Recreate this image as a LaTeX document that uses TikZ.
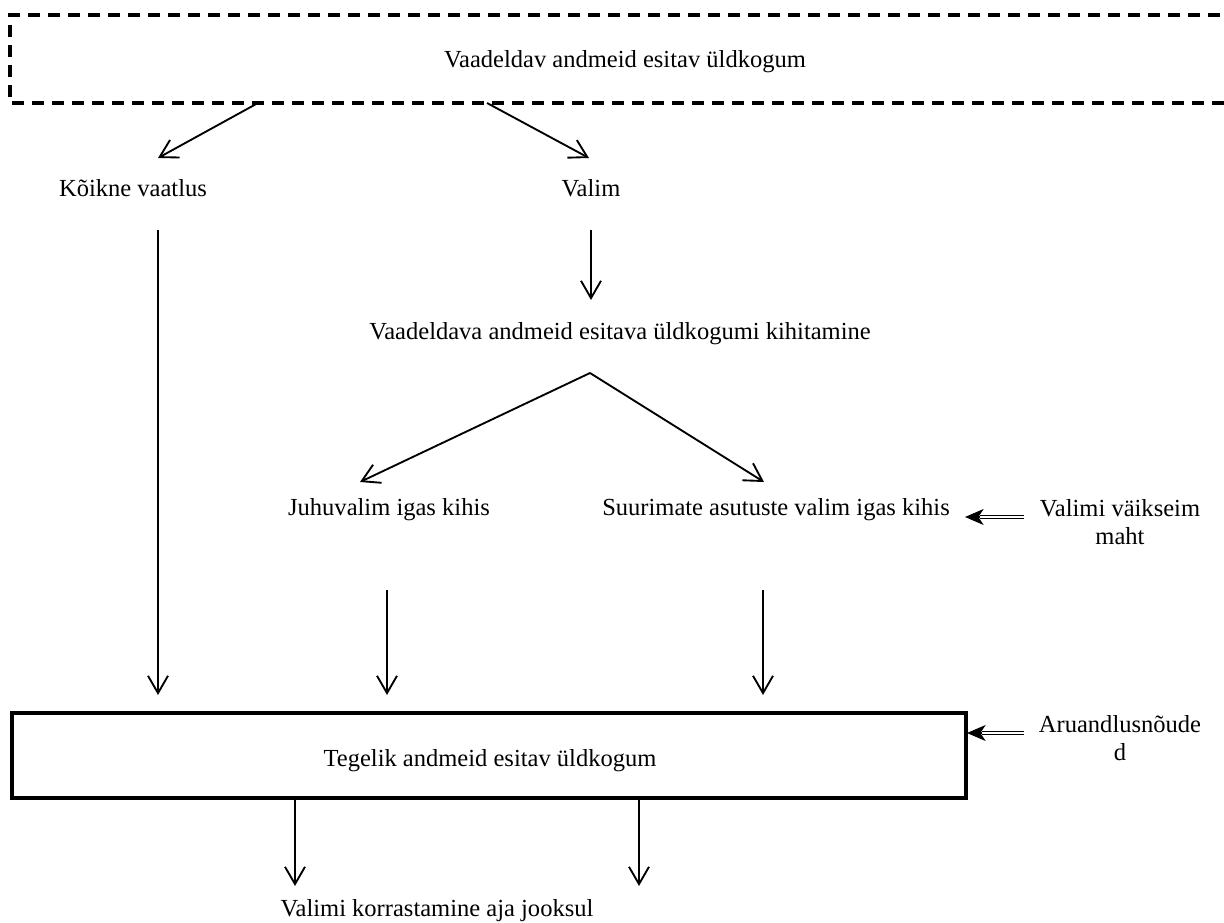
\documentclass[tikz,border=0pt]{standalone}
\usepackage{fontspec}
\setmainfont{Liberation Serif}
\usetikzlibrary{arrows.meta}
\tikzset{
  lbl/.style={font=\fontsize{18.4}{21}\selectfont, inner sep=0pt, align=center},
  arr/.style={line width=1.4pt, -{Straight Barb[length=13pt,width=15pt,line width=1.4pt]}},
  dshaft/.style={double, double distance=1.6pt, line width=0.8pt},
  dhead/.style={line width=0.8pt, -{Stealth[length=14pt,width=12pt,inset=4pt]}},
  dbox/.style={line width=2.5pt, dash pattern=on 9pt off 6pt},
  sbox/.style={draw, line width=2.3pt, minimum width=954*0.75pt, minimum height=85*0.75pt, inner sep=0pt}
}
\begin{document}
\begin{tikzpicture}[x=0.75pt,y=-0.75pt]
\useasboundingbox (0,0) rectangle (1224,923);
\clip (0,0) rectangle (1224,923);
% dashed population box
\draw[dbox] (1240,15) -- (10,15) -- (10,103) -- (1240,103);
\node[lbl] (top) at (625,62) {Vaadeldav andmeid esitav üldkogum};
\node[lbl] (koik) at (133,188) {Kõikne vaatlus};
\node[lbl] (valim) at (591,188) {Valim};
\node[lbl] (kiht) at (620,334) {Vaadeldava andmeid esitava üldkogumi kihitamine};
\node[lbl] (juhu) at (389,510) {Juhuvalim igas kihis};
\node[lbl] (suur) at (776,510) {Suurimate asutuste valim igas kihis};
\node[lbl] (vaike) at (1120,522) {Valimi väikseim\\maht};
\node[sbox] (teg) at (489,755.5) {};
\node[lbl] (tegt) at (490,761) {Tegelik andmeid esitav üldkogum};
\node[lbl] (aru) at (1120,738) {Aruandlusnõude\\d};
\node[lbl] (korr) at (437,911) {Valimi korrastamine aja jooksul};
% coordinates
\coordinate (a1s) at (258,103); \coordinate (a1e) at (158,158);
\coordinate (a2s) at (487,103); \coordinate (a2e) at (589,158);
\coordinate (b1s) at (158,230); \coordinate (b1e) at (158,695);
\coordinate (b2s) at (591,230); \coordinate (b2e) at (591,300);
\coordinate (cs) at (590,373);
\coordinate (c1e) at (360,482); \coordinate (c2e) at (764,482);
\coordinate (d1s) at (387,590); \coordinate (d1e) at (387,695);
\coordinate (d2s) at (763,590); \coordinate (d2e) at (763,695);
\coordinate (e1s) at (295,798); \coordinate (e1e) at (295,886);
\coordinate (e2s) at (639,798); \coordinate (e2e) at (639,886);
\coordinate (f1s) at (1024,517); \coordinate (f1m) at (980,517); \coordinate (f1e) at (965,517);
\coordinate (f2s) at (1024,733); \coordinate (f2m) at (982,733); \coordinate (f2e) at (967,733);
% arrows
\draw[arr] (a1s) -- (a1e);
\draw[arr] (a2s) -- (a2e);
\draw[arr] (b1s) -- (b1e);
\draw[arr] (b2s) -- (b2e);
\draw[arr] (cs) -- (c1e);
\draw[arr] (cs) -- (c2e);
\draw[arr] (d1s) -- (d1e);
\draw[arr] (d2s) -- (d2e);
\draw[arr] (e1s) -- (e1e);
\draw[arr] (e2s) -- (e2e);
\draw[dshaft] (f1s) -- (f1m);
\draw[dhead] (f1m) -- (f1e);
\draw[dshaft] (f2s) -- (f2m);
\draw[dhead] (f2m) -- (f2e);
\end{tikzpicture}
\end{document}
